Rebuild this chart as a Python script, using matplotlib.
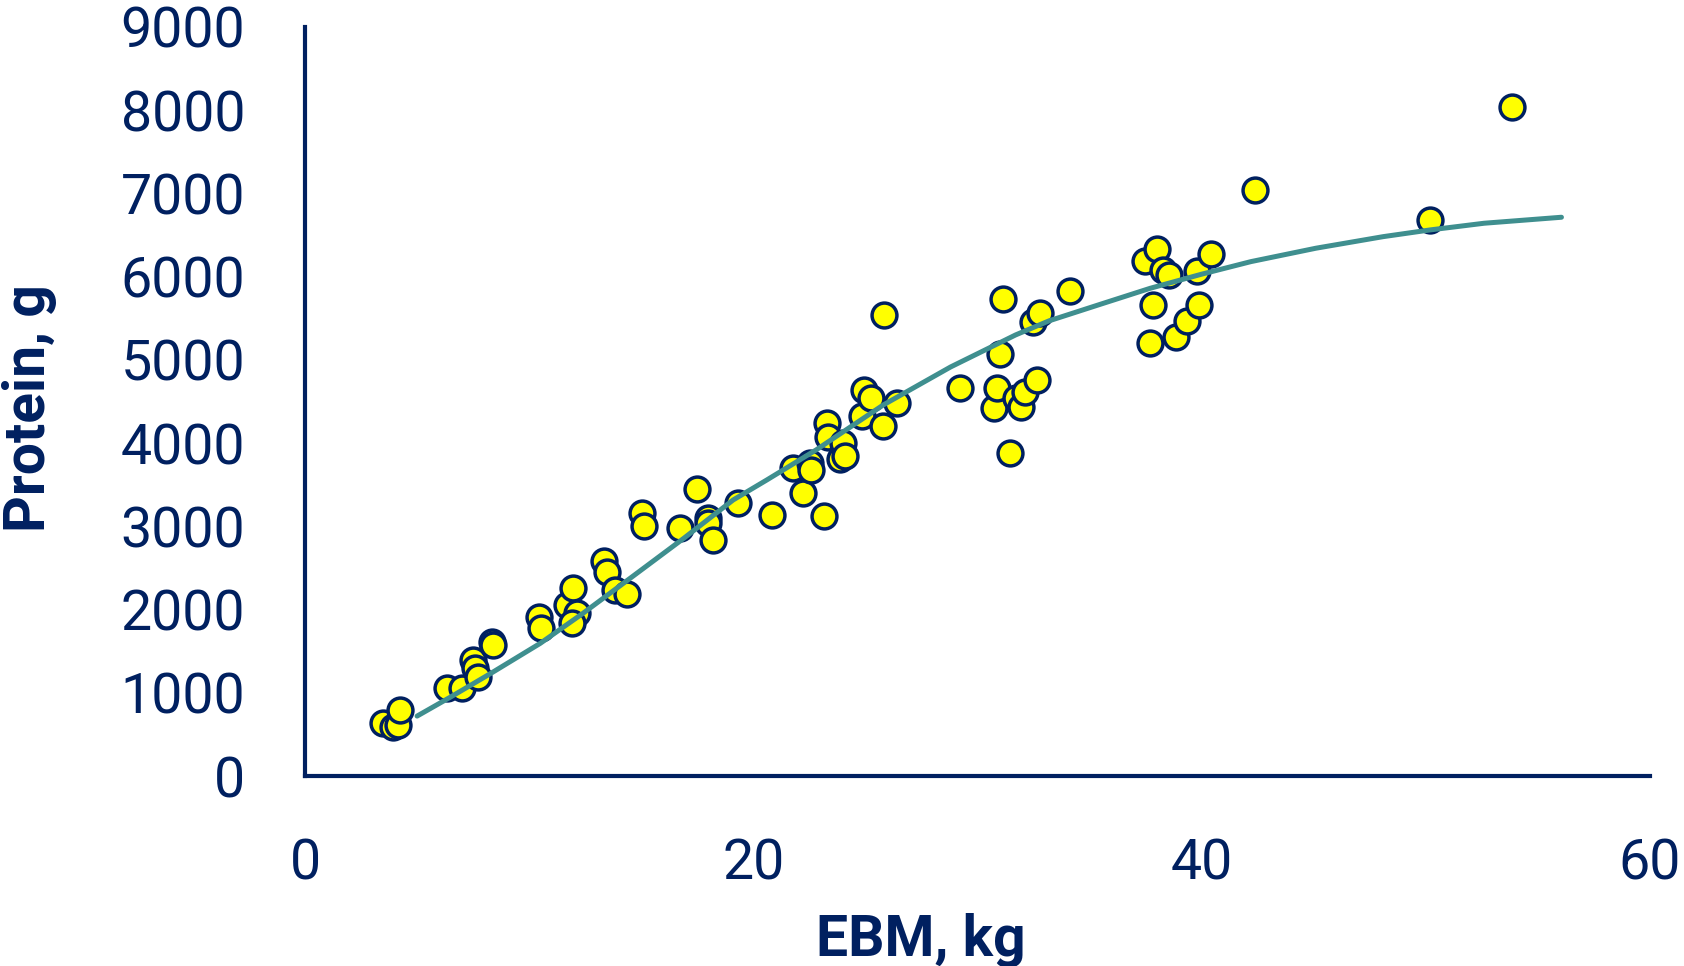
import matplotlib
matplotlib.use("Agg")
import matplotlib.pyplot as plt

# EBM (kg) vs body protein (g)
ebm = [3.49, 3.94, 4.16, 4.24, 6.32, 6.99, 7.51, 7.58, 7.73, 8.33, 8.40,
       10.45, 10.51, 11.67, 11.94, 12.12, 11.90, 13.35, 13.46, 13.83, 14.35,
       15.05, 15.12, 16.73, 17.47, 17.99, 17.99, 18.21, 19.33, 20.84,
       21.78, 22.23, 22.52, 22.57, 23.15, 23.30, 23.33, 23.86, 24.01, 24.08,
       24.83, 24.95, 25.23, 25.77, 26.39, 25.82,
       29.24, 30.75, 30.85, 31.00, 31.15, 31.45, 31.70, 31.92, 32.11, 32.46,
       32.66, 32.81, 34.12,
       37.47, 37.69, 37.84, 38.02, 38.28, 38.55, 38.85, 39.35, 39.77, 39.89,
       40.40, 42.39, 50.18, 53.84]
protein = [641, 592, 613, 793, 1054, 1054, 1394, 1294, 1193, 1614, 1575,
           1914, 1775, 2055, 2255, 1955, 1835, 2584, 2455, 2235, 2187,
           3164, 3004, 2977, 3445, 3097, 3040, 2836, 3284, 3137,
           3698, 3405, 3758, 3677, 3128, 4239, 4079, 3806, 3998, 3846,
           4327, 4639, 4539, 4210, 4479, 5544,
           4659, 4427, 4667, 5072, 5729, 3878, 4540, 4439, 4619, 5460,
           4759, 5568, 5833,
           6189, 5200, 5660, 6330, 6081, 6021, 5272, 5468, 6073, 5660,
           6270, 7043, 6682, 8035]

# fitted curve
fit_x = [5.0, 6.5, 8.3, 10.5, 12.4, 14.6, 16.9, 19.1, 20.6, 22.8, 25.8,
         28.8, 31.7, 33.2, 35.5, 37.7, 40.0, 42.2, 45.1, 48.1, 50.2, 52.6,
         56.05]
fit_y = [720, 950, 1235, 1595, 1955, 2395, 2857, 3317, 3557, 3918, 4459,
         4915, 5300, 5470, 5670, 5860, 6030, 6181, 6342, 6481, 6562, 6642,
         6714]

navy = "#002060"
teal = "#3f8f8f"

plt.rcParams["font.family"] = ["Roboto", "DejaVu Sans"]

fig = plt.figure(figsize=(16.84, 9.66), dpi=100)
ax = fig.add_axes([305 / 1684, 1 - 776 / 966, 1345 / 1684, 749 / 966])

ax.scatter(ebm, protein, s=320, facecolor="#ffff00", edgecolor=navy,
           linewidth=2.5, zorder=3, clip_on=False)
ax.plot(fit_x, fit_y, color=teal, linewidth=3.6, zorder=4,
        solid_capstyle="round", solid_joinstyle="round")

ax.set_xlim(0, 60)
ax.set_ylim(0, 9000)
ax.set_xticks([0, 20, 40, 60])
ax.set_yticks(range(0, 9001, 1000))

for s in ["top", "right"]:
    ax.spines[s].set_visible(False)
for s in ["left", "bottom"]:
    ax.spines[s].set_color(navy)
    ax.spines[s].set_linewidth(3)

ax.tick_params(axis="both", length=0, labelsize=40, labelcolor=navy)
ax.tick_params(axis="y", pad=43)
ax.tick_params(axis="x", pad=44)

fig.text(30 / 1684, 1 - 408 / 966, "Protein, g", rotation=90,
         ha="center", va="center", fontsize=41, fontweight="bold", color=navy)
fig.text(921 / 1684, 1 - 940 / 966, "EBM, kg", ha="center", va="center",
         fontsize=41, fontweight="bold", color=navy)

fig.savefig("out.png", dpi=100)
